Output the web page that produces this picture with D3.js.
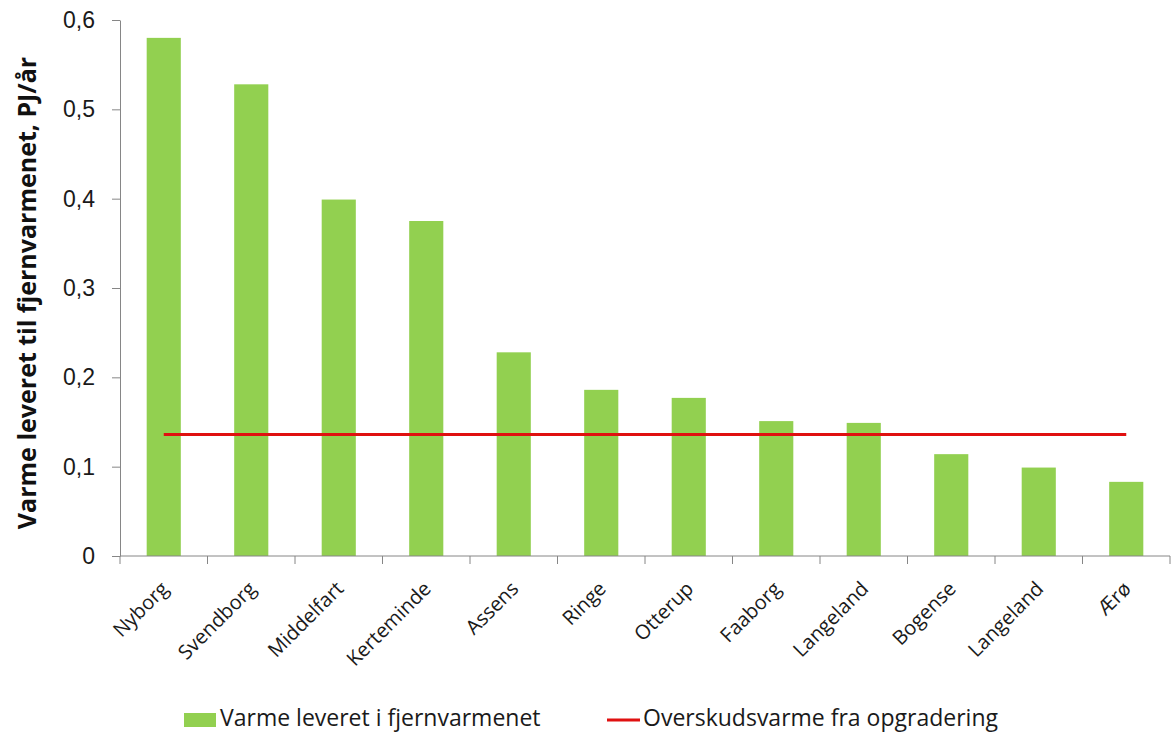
<!DOCTYPE html>
<html>
<head>
<meta charset="utf-8">
<script src="https://cdn.jsdelivr.net/npm/d3@7"></script>
<style>
  body { margin: 0; background: #fff; }
  svg { display: block; font-family: "Open Sans", "DejaVu Sans", sans-serif; }
</style>
</head>
<body>
<svg id="chart" width="1175" height="734"></svg>
<script>
// data
const categories = ["Nyborg", "Svendborg", "Middelfart", "Kerteminde", "Assens", "Ringe",
  "Otterup", "Faaborg", "Langeland", "Bogense", "Langeland ", "Ærø"];
const delivered = [0.580, 0.528, 0.399, 0.375, 0.228, 0.186, 0.177, 0.151, 0.149, 0.114, 0.099, 0.083];
const surplus = 0.136;
const yTicks = [0, 0.1, 0.2, 0.3, 0.4, 0.5, 0.6];
const seriesNames = ["Varme leveret i fjernvarmenet", "Overskudsvarme fra opgradering"];

const green = "#92d050", red = "#e01010", axisGrey = "#868686";
const fmt = (d) => d === 0 ? "0" : d3.format(".1f")(d).replace(".", ",");

const svg = d3.select("#chart");
const plotL = 120, plotR = 1170, plotT = 20, plotB = 556;

const x = d3.scaleBand().domain(categories).range([plotL, plotR]).paddingInner(0.61).paddingOuter(0.305);
const xTick = d3.scaleBand().domain(categories).range([plotL, plotR]);
const y = d3.scaleLinear().domain([0, 0.6]).range([plotB, plotT]);

// bars
svg.append("g").selectAll("rect").data(categories).join("rect")
  .attr("x", (d) => x(d)).attr("width", x.bandwidth())
  .attr("y", (d, i) => y(delivered[i])).attr("height", (d, i) => plotB - y(delivered[i]))
  .attr("fill", green);

// y axis
const yAxis = svg.append("g").attr("transform", `translate(${plotL},0)`)
  .call(d3.axisLeft(y).tickValues(yTicks).tickFormat(fmt).tickSize(8).tickSizeOuter(0).tickPadding(17));
yAxis.select(".domain").attr("stroke", axisGrey);
yAxis.selectAll(".tick line").attr("stroke", axisGrey);
yAxis.selectAll("text").attr("font-size", 23).attr("fill", "#1a1a1a");

// x axis (ticks between categories)
const xAxis = svg.append("g").attr("transform", `translate(0,${plotB})`);
xAxis.append("line").attr("x1", plotL).attr("x2", plotR).attr("stroke", axisGrey);
xAxis.selectAll("line.tk").data(categories.concat([null])).join("line").attr("class", "tk")
  .attr("x1", (d, i) => plotL + i * xTick.step()).attr("x2", (d, i) => plotL + i * xTick.step())
  .attr("y1", 0).attr("y2", 8).attr("stroke", axisGrey);
xAxis.selectAll("text").data(categories).join("text")
  .attr("transform", (d) => `translate(${x(d) + x.bandwidth() / 2 + 6},${34}) rotate(-45)`)
  .attr("text-anchor", "end").attr("font-size", 20).attr("fill", "#1a1a1a")
  .text((d) => d.trim());

// surplus line
svg.append("line")
  .attr("x1", x(categories[0]) + x.bandwidth() / 2)
  .attr("x2", x(categories[categories.length - 1]) + x.bandwidth() / 2)
  .attr("y1", y(surplus)).attr("y2", y(surplus))
  .attr("stroke", red).attr("stroke-width", 3);

// y title
svg.append("text").attr("transform", "translate(36,293) rotate(-90)")
  .attr("text-anchor", "middle").attr("font-size", 25).attr("font-weight", 700)
  .attr("fill", "#111").text("Varme leveret til fjernvarmenet, PJ/år");

// legend
const lg = svg.append("g").attr("font-size", 23).attr("fill", "#1a1a1a");
lg.append("rect").attr("x", 184).attr("y", 713).attr("width", 32).attr("height", 14).attr("fill", green);
lg.append("text").attr("x", 220).attr("y", 726).text(seriesNames[0]);
lg.append("line").attr("x1", 607).attr("x2", 640).attr("y1", 720).attr("y2", 720)
  .attr("stroke", red).attr("stroke-width", 3);
lg.append("text").attr("x", 643).attr("y", 726).text(seriesNames[1]);
</script>
</body>
</html>
